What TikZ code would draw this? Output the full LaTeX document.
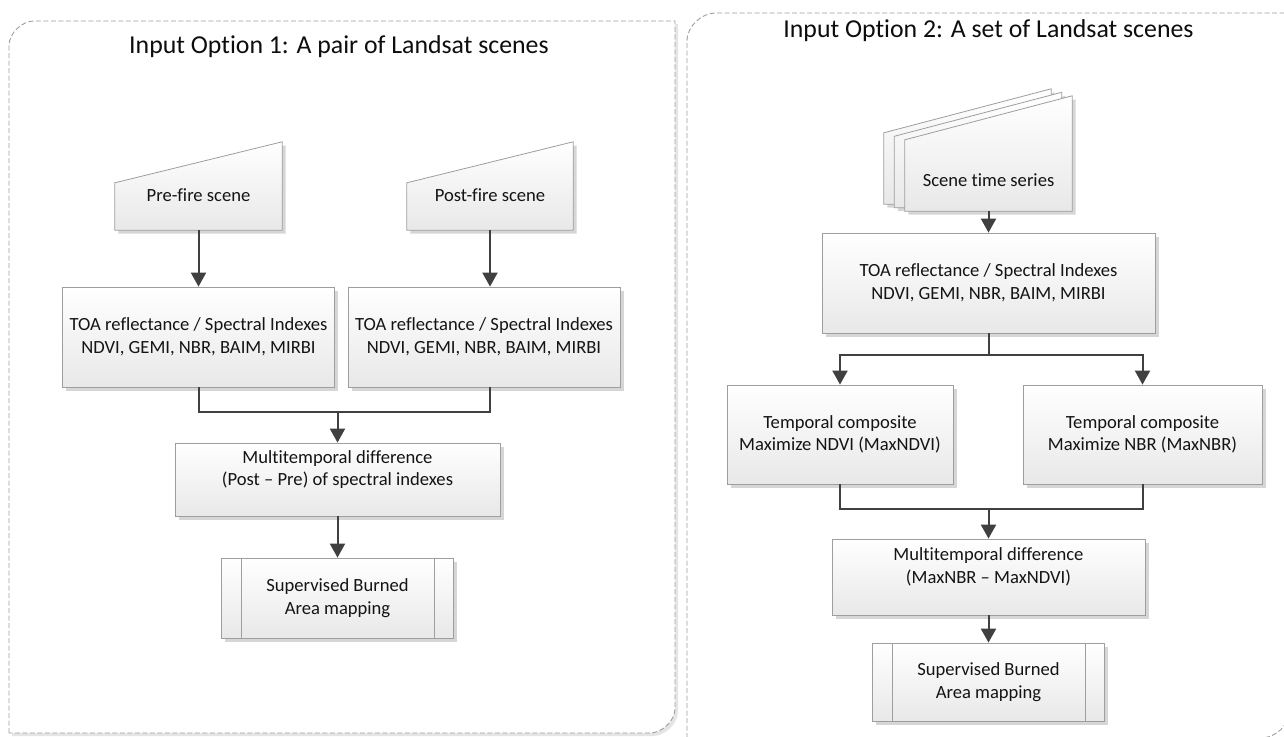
\documentclass[tikz,border=0pt]{standalone}
\usepackage{fontspec}
\setmainfont{Carlito}[Ligatures={TeX,NoCommon}]
\usetikzlibrary{arrows.meta,shadows,calc}
\pgfdeclarelayer{back}
\pgfdeclarelayer{shp}
\pgfsetlayers{back,shp,main}
\begin{document}
\begin{tikzpicture}[x=1pt,y=-1pt,
  panel/.style={draw=black!38, line width=0.9pt, dash pattern=on 5pt off 2.5pt, fill=white},
  shade/.style={draw=black!38, line width=0.8pt, top color=white, bottom color=black!9,
    drop shadow={shadow xshift=3.5pt, shadow yshift=-3.5pt, fill=black!16, opacity=1}},
  box/.style={shade, rectangle, align=center, inner sep=0pt, font=\fontsize{18.6}{22.6}\selectfont, text=black!92},
  txt/.style={rectangle, align=center, inner sep=0pt, font=\fontsize{18.6}{22.6}\selectfont, text=black!92},
  ttl/.style={inner sep=0pt, font=\fontsize{25.8}{30}\selectfont, text=black!95},
  conn/.style={draw=black!75, line width=2pt},
  arr/.style={conn, -{Triangle[width=15pt,length=14pt]}},
  thinline/.style={draw=black!38, line width=0.8pt}
]
\useasboundingbox (0,0) rectangle (1284,736);

% panels
\begin{pgfonlayer}{back}
\path[panel, drop shadow={shadow xshift=3pt, shadow yshift=-3pt, fill=black!10, opacity=1}]
  (9,733) -- (9,46) .. controls (9,32.2) and (22.8,21) .. (34,21) -- (675,21) -- (675,708)
  .. controls (675,721.8) and (661.2,733) .. (650,733) -- cycle;
\path[panel]
  (687,738) -- (687,41) .. controls (687,25.5) and (702.5,13) .. (715,13) -- (1290,13) -- (1290,708)
  .. controls (1290,724.6) and (1276.6,738) .. (1260,738) -- cycle;
\end{pgfonlayer}

% titles
\node[ttl] (t1) at (339,47) {Input Option 1: A pair of Landsat scenes};
\node[ttl] (t2) at (988.5,31) {Input Option 2: A set of Landsat scenes};

% ---------- left ----------
\node[txt, minimum width=167pt, minimum height=47pt] (pre) at (198.5,206.5) {Pre-fire scene\\\mbox{}};
\node[txt, minimum width=166pt, minimum height=47pt] (post) at (490,206.5) {Post-fire scene\\\mbox{}};
\begin{pgfonlayer}{shp}
\path[shade] (pre.south west) -- (pre.south east) -- ($(pre.north east)+(0,-41)$) -- (pre.north west) -- cycle;
\path[shade] (post.south west) -- (post.south east) -- ($(post.north east)+(0,-41)$) -- (post.north west) -- cycle;
\end{pgfonlayer}

\node[box, minimum width=272pt, minimum height=100pt] (toa1) at (198.5,337)
  {TOA reflectance / Spectral Indexes\\NDVI, GEMI, NBR, BAIM, MIRBI};
\node[box, minimum width=272pt, minimum height=100pt] (toa2) at (484,337)
  {TOA reflectance / Spectral Indexes\\NDVI, GEMI, NBR, BAIM, MIRBI};
\node[box, minimum width=325pt, minimum height=73pt] (diff1) at (337.5,479.5)
  {Multitemporal difference\\(Post – Pre) of spectral indexes\\\mbox{}};
\node[box, minimum width=232pt, minimum height=80pt] (sup1) at (337.5,598)
  {Supervised Burned\\Area mapping};
\draw[thinline] ($(sup1.north west)+(20,0)$) -- ($(sup1.south west)+(20,0)$);
\draw[thinline] ($(sup1.north east)+(-20,0)$) -- ($(sup1.south east)+(-20,0)$);

\draw[arr] (pre) -- (pre |- toa1.north);
\draw[arr] (post) -- (post |- toa2.north);
\coordinate (j1) at (337.5,412);
\draw[conn] (pre |- toa1.south) |- (j1) -| (post |- toa2.south);
\draw[arr] (j1) -- (diff1);
\draw[arr] (diff1) -- (sup1);

% ---------- right ----------
\node[txt, minimum width=167pt, minimum height=71pt] (scene) at (988.5,175.5) {\mbox{}\\Scene time series};
\begin{pgfonlayer}{shp}
\foreach \d in {2,1,0}{
  \path[shade] ($(scene.south west)+(-10.5*\d,-3.5*\d)$) -- ($(scene.south east)+(-10.5*\d,-3.5*\d)$)
    -- ($(scene.north east)+(-10.5*\d,-3.5*\d-44)$) -- ($(scene.north west)+(-10.5*\d,-3.5*\d)$) -- cycle;
}
\end{pgfonlayer}

\node[box, minimum width=333pt, minimum height=100pt] (toa3) at (988.5,283)
  {TOA reflectance / Spectral Indexes\\NDVI, GEMI, NBR, BAIM, MIRBI};
\node[box, minimum width=226pt, minimum height=99pt] (tc1) at (840,434.5)
  {Temporal composite\\Maximize NDVI (MaxNDVI)};
\node[box, minimum width=239pt, minimum height=99pt] (tc2) at (1142.5,434.5)
  {Temporal composite\\Maximize NBR (MaxNBR)};
\node[box, minimum width=313pt, minimum height=76pt] (diff2) at (988.5,577)
  {Multitemporal difference\\(MaxNBR – MaxNDVI)\\\mbox{}};
\node[box, minimum width=232pt, minimum height=78pt] (sup2) at (988.5,682)
  {Supervised Burned\\Area mapping};
\draw[thinline] ($(sup2.north west)+(20,0)$) -- ($(sup2.south west)+(20,0)$);
\draw[thinline] ($(sup2.north east)+(-20,0)$) -- ($(sup2.south east)+(-20,0)$);

\draw[arr] (scene) -- (toa3);
\coordinate (j2) at (988.5,355);
\draw[conn] (toa3) -- (j2);
\draw[arr] (j2) -| (tc1);
\draw[arr] (j2) -| (tc2);
\coordinate (j3) at (988.5,509);
\draw[conn] (tc1) |- (j3) -| (tc2);
\draw[arr] (j3) -- (diff2);
\draw[arr] (diff2) -- (sup2);
\end{tikzpicture}
\end{document}
